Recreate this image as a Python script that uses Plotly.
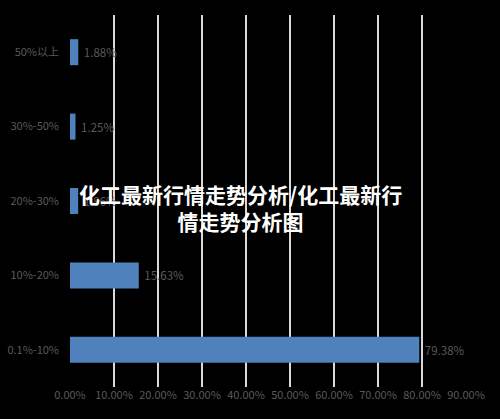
import plotly.graph_objects as go

categories = ["0.1%-10%", "10%-20%", "20%-30%", "30%-50%", "50%以上"]
values = [79.38, 15.63, 1.86, 1.25, 1.88]
tick_vals = [0, 10, 20, 30, 40, 50, 60, 70, 80, 90]
tick_text = ["0.00%", "10.00%", "20.00%", "30.00%", "40.00%", "50.00%", "60.00%", "70.00%", "80.00%", "90.00%"]
title_text = "化工最新行情走势分析/化工最新行<br>情走势分析图"

font_fam = "Noto Sans CJK SC, Noto Sans, sans-serif"
gray = "#5a5a5a"

fig = go.Figure(go.Bar(
    y=categories,
    x=values,
    orientation="h",
    marker=dict(color="#4f81bd", line=dict(width=0)),
    text=["\u00a0" + f"{v:.2f}%" for v in values],
    textposition="outside",
    textfont=dict(color=gray, size=11.5, family=font_fam),
    cliponaxis=False,
))

pw = 500 - 70 - 34
ph = 419 - 15 - 32

fig.update_layout(
    width=500, height=419,
    paper_bgcolor="#000000",
    plot_bgcolor="#000000",
    margin=dict(l=70, r=34, t=15, b=32),
    bargap=0.65,
    showlegend=False,
    font=dict(family=font_fam, color=gray, size=11),
    xaxis=dict(
        range=[0, 90],
        tickvals=tick_vals,
        ticktext=tick_text,
        showgrid=True,
        gridcolor="#d9d9d9",
        gridwidth=1.5,
        zeroline=False,
        showline=False,
        ticks="",
        tickfont=dict(color=gray, size=11),
        fixedrange=True,
        automargin=False,
    ),
    yaxis=dict(
        categoryorder="array",
        categoryarray=categories,
        showgrid=False,
        zeroline=False,
        showline=False,
        ticks="",
        ticklabelstandoff=10,
        tickfont=dict(color=gray, size=11),
        automargin=False,
    ),
    annotations=[dict(
        text="<b>" + title_text + "</b>",
        x=(240 - 70) / pw, xref="paper", xanchor="center",
        y=1 - (207 - 15) / ph, yref="paper", yanchor="middle",
        showarrow=False,
        font=dict(color="#ffffff", size=21, family=font_fam),
        align="center",
    )],
)

fig.write_html("out.html")
